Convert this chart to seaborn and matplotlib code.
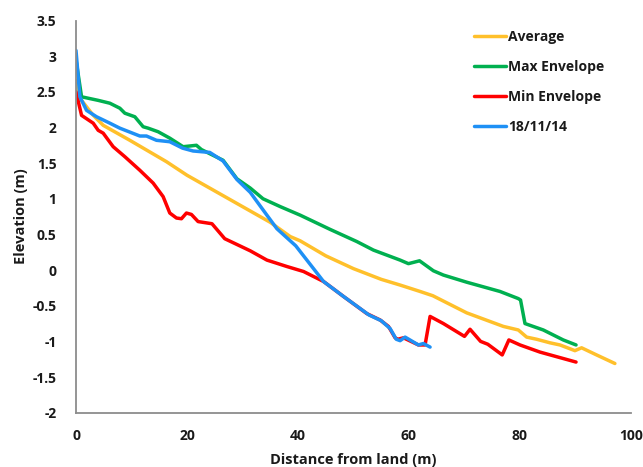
import matplotlib
matplotlib.use("Agg")
import matplotlib.pyplot as plt
import seaborn as sns
import pandas as pd

# Beach profile series: distance from land (m) and elevation (m)
avg_x = [0, 0.7, 3, 4.9, 9.7, 16.3, 20, 25, 30, 35, 38.6, 40.4, 45, 50, 55, 58.4,
         62, 64.3, 70.4, 77, 79.7, 81.2, 83, 85.4, 87.2, 89.9, 91.1, 93.8, 97.1]
avg_y = [2.66, 2.41, 2.18, 2.03, 1.82, 1.52, 1.33, 1.11, 0.89, 0.67, 0.47, 0.41, 0.20,
         0.02, -0.13, -0.21, -0.30, -0.36, -0.60, -0.79, -0.84, -0.94, -0.97, -1.02,
         -1.05, -1.13, -1.09, -1.19, -1.31]

max_x = [0, 1, 4, 6.1, 7.9, 8.8, 10.6, 12.1, 13, 14.8, 16.9, 19.3, 21.7, 22.6, 26.5,
         29, 31.4, 33.7, 36.8, 40.4, 45.8, 50.6, 53.6, 58.4, 59.9, 61.9, 64.4, 66.2,
         70.4, 76.4, 79.7, 80.1, 80.9, 84.2, 87.8, 90.1]
max_y = [2.95, 2.43, 2.38, 2.34, 2.27, 2.20, 2.15, 2.01, 1.99, 1.94, 1.85, 1.73, 1.75,
         1.69, 1.54, 1.28, 1.15, 1.00, 0.89, 0.77, 0.57, 0.40, 0.28, 0.14, 0.09, 0.13,
         -0.01, -0.07, -0.17, -0.30, -0.40, -0.42, -0.75, -0.84, -0.98, -1.05]

min_x = [0, 1, 3.1, 4, 4.9, 6.7, 8.8, 11.5, 13.9, 15.7, 16.9, 18.1, 19, 19.9, 20.8, 22,
         24.5, 26.8, 31.4, 34.4, 38, 41, 44.6, 48.2, 52.4, 54.8, 56.3, 57.5, 58, 59,
         61.7, 62.9, 63.8, 66.2, 70, 71, 72.9, 74.2, 76.8, 78, 80, 83.6, 90.1]
min_y = [2.50, 2.17, 2.06, 1.96, 1.92, 1.73, 1.59, 1.40, 1.22, 1.03, 0.80, 0.73, 0.72,
         0.80, 0.78, 0.68, 0.65, 0.44, 0.27, 0.14, 0.05, -0.02, -0.16, -0.37, -0.61,
         -0.70, -0.79, -0.95, -0.97, -0.95, -1.05, -1.05, -0.65, -0.75, -0.93, -0.83,
         -1.00, -1.04, -1.19, -0.98, -1.05, -1.15, -1.29]

survey_x = [0, 0.7, 1.9, 3.7, 6.1, 7.9, 11.5, 12.7, 14.5, 16.9, 19.2, 21.1, 24.1, 26.5,
            29, 31.4, 34.4, 36.2, 39.6, 44.6, 48.2, 52.8, 55, 56.6, 57.7, 58.4, 59.3,
            61.7, 62.6, 63.8]
survey_y = [3.08, 2.43, 2.24, 2.15, 2.06, 1.99, 1.88, 1.88, 1.82, 1.80, 1.71, 1.67, 1.65,
            1.53, 1.27, 1.09, 0.77, 0.58, 0.34, -0.16, -0.37, -0.63, -0.71, -0.82, -0.97,
            -0.99, -0.94, -1.05, -1.03, -1.08]

series_names = ["Average", "Max Envelope", "Min Envelope", "18/11/14"]
series_colors = ["#FFC02B", "#00B050", "#FF0000", "#1E90F5"]

frames = []
for name, xs, ys in zip(series_names,
                        [avg_x, max_x, min_x, survey_x],
                        [avg_y, max_y, min_y, survey_y]):
    frames.append(pd.DataFrame({"distance": xs, "elevation": ys, "series": name}))
data = pd.concat(frames, ignore_index=True)

sns.set_style("white")
plt.rcParams["font.family"] = ["Open Sans", "DejaVu Sans"]

TEXT = "#1a1a1a"
AXIS = "#8C8C8C"

fig = plt.figure(figsize=(6.43, 4.67), dpi=100)
ax = fig.add_axes([0.1182, 0.1163, 0.8631, 0.8398])

sns.lineplot(data=data, x="distance", y="elevation", hue="series",
             hue_order=series_names, palette=series_colors, sort=False,
             estimator=None, linewidth=2.5, ax=ax, legend=False)

ax.set_xlim(0, 100)
ax.set_ylim(-2, 3.5)
ax.set_xticks([0, 20, 40, 60, 80, 100])
ax.set_yticks([-2, -1.5, -1, -0.5, 0, 0.5, 1, 1.5, 2, 2.5, 3, 3.5])
ax.set_yticklabels(["-2", "-1.5", "-1", "-0.5", "0", "0.5", "1", "1.5", "2", "2.5",
                    "3", "3.5"])

for side in ["top", "right"]:
    ax.spines[side].set_visible(False)
for side in ["left", "bottom"]:
    ax.spines[side].set_color(AXIS)
    ax.spines[side].set_linewidth(1.3)

ax.tick_params(axis="both", which="major", direction="out", length=5, width=1,
               color=AXIS, labelsize=10, labelcolor=TEXT)
ax.tick_params(axis="x", pad=7)
ax.tick_params(axis="y", pad=9)
for lab in ax.get_xticklabels() + ax.get_yticklabels():
    lab.set_fontweight("bold")

ax.set_xlabel("Distance from land (m)", fontsize=10.5, fontweight="bold",
              color=TEXT, labelpad=7)
ax.set_ylabel("Elevation (m)", fontsize=10.5, fontweight="bold",
              color=TEXT, labelpad=3)

handles = [plt.Line2D([], [], color=c, linewidth=2.5) for c in series_colors]
leg = fig.legend(handles, series_names, loc="upper left",
                 bbox_to_anchor=(0.718, 0.962), frameon=False,
                 handlelength=2.3, handletextpad=0.15, labelspacing=1.15,
                 prop={"weight": "bold", "size": 10})
for t in leg.get_texts():
    t.set_color(TEXT)

fig.savefig("out.png", dpi=100)
